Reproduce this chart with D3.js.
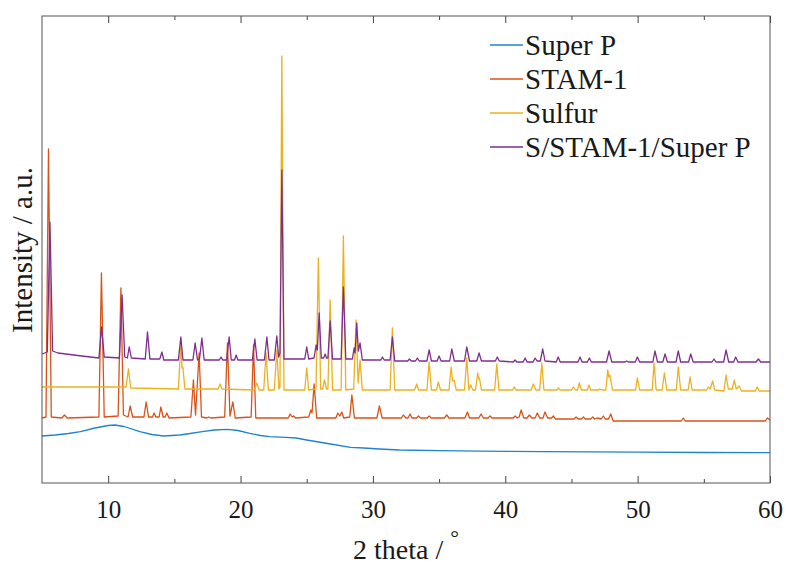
<!DOCTYPE html>
<html>
<head>
<meta charset="utf-8">
<script src="https://cdn.jsdelivr.net/npm/d3@7"></script>
<style>
  body { margin: 0; background: #fff; }
  text { font-family: "Liberation Serif", "Times New Roman", serif; fill: #1a1a1a; }
</style>
</head>
<body>
<div id="chart-container"></div>
<script>
// XRD patterns, [2 theta, intensity (a.u., stacked offset)]
var superP = [[5.0,47],[6.0,48],[7.0,49.5],[7.9,51.3],[9.0,55],[10.0,57.5],[10.5,58],[11.2,56.5],[12.4,51.3],[13.3,48.5],[14.2,47],[15.4,48],[16.2,49.5],[17.1,51.3],[18.0,53],[19.0,53.7],[19.8,52.5],[20.7,49.7],[21.5,47.5],[22.2,46.3],[23.4,45.7],[24.2,45],[25.0,43],[25.9,41],[26.8,39],[28.3,35.7],[29.3,35],[30.5,34],[32.0,33],[35.0,32.3],[38.0,31.8],[43.0,31.3],[50,30.8],[55,30.5],[60,30.3]];

var stam1 = [[5.0,65],[5.3,66],[5.49,334],[5.7,66],[6.5,65],[6.7,68],[6.9,65],[9.3,66],[9.49,210],[9.7,66],[10.75,67],[10.96,195],[11.15,68],[11.5,66],[11.66,77],[11.85,66],[12.7,66],[12.87,81],[13.05,66],[13.35,66],[13.47,70],[13.6,66],[13.85,66],[13.98,76],[14.15,66],[14.3,66],[14.43,70],[14.6,65],[16.25,66],[16.44,103],[16.6,68],[16.87,130],[17.05,66],[17.45,65],[17.6,66],[17.75,65],[18.8,66],[19.01,140],[19.2,67],[19.42,81],[19.6,65],[20.8,66],[20.98,138],[21.15,65],[23.6,65],[23.75,69],[23.9,66],[24.0,67],[24.15,65],[25.15,66],[25.31,73],[25.4,70],[25.56,99],[25.75,65],[27.2,65],[27.35,70],[27.5,67],[27.65,71],[27.8,65],[28.25,66],[28.41,88],[28.6,65],[30.3,65],[30.49,77],[30.7,65],[32.15,65],[32.3,68],[32.5,65],[32.65,65],[32.81,69],[32.95,65],[33.3,65],[33.44,67],[33.6,65],[34.1,65],[34.25,67],[34.4,65],[35.4,65],[35.58,68],[35.75,65],[36.95,65],[37.14,71],[37.3,65],[38.0,65],[38.17,69],[38.35,65],[38.7,65],[38.85,67],[39.0,65],[40.6,65],[40.74,67],[40.9,65],[41.05,66],[41.2,73],[41.4,65],[41.65,65],[41.82,68],[42.0,65],[42.25,65],[42.42,70],[42.6,65],[42.85,65],[43.0,71],[43.2,65],[43.5,65],[43.63,67],[43.8,64],[45.2,64],[45.35,66],[45.5,64],[45.75,64],[45.9,66],[46.05,64],[46.45,64],[46.61,66],[46.75,64],[46.96,65],[47.25,64],[47.41,67],[47.55,64],[47.8,64],[47.97,69],[48.15,62],[53.3,62],[53.45,65],[53.6,62],[59.65,62],[59.8,65],[60,63]];

var sulfur = [[5.0,96],[11.35,96],[11.53,114],[11.7,95],[15.3,94],[15.49,138],[15.58,115],[15.64,116],[15.8,94],[18.3,94],[18.46,99],[18.6,94],[21.05,93],[21.23,100],[21.4,93],[21.75,93],[21.93,130],[22.1,93],[22.55,93],[22.74,133],[22.9,94],[22.98,96],[23.12,427],[23.28,93],[24.85,93],[25.0,115],[25.15,93],[25.7,94],[25.88,225],[26.05,94],[26.2,94],[26.34,103],[26.5,94],[26.6,94],[26.77,183],[26.95,93],[27.6,93],[27.77,247],[27.95,93],[28.55,94],[28.73,163],[28.88,100],[29.03,123],[29.2,93],[31.3,93],[31.47,155],[31.65,93],[33.15,93],[33.31,99],[33.45,93],[34.08,93],[34.25,121],[34.42,93],[34.8,93],[34.95,101],[35.1,93],[35.75,93],[35.91,116],[36.02,102],[36.13,103],[36.3,93],[36.92,93],[37.09,125],[37.25,93],[37.39,98],[37.55,93],[37.75,93],[37.92,110],[38.0,104],[38.05,105],[38.2,93],[39.2,93],[39.36,119],[39.52,93],[40.55,93],[40.67,96],[40.8,93],[41.95,93],[42.12,99],[42.3,93],[42.6,93],[42.76,120],[42.92,93],[43.9,93],[44.01,95],[44.15,93],[45.0,93],[45.14,96],[45.3,93],[45.45,93],[45.6,100],[45.75,93],[46.2,93],[46.33,98],[46.45,93],[47.05,93],[47.16,94],[47.3,93],[47.6,93],[47.74,113],[47.82,106],[47.9,108],[48.1,93],[49.85,93],[49.98,105],[50.15,93],[51.1,93],[51.24,120],[51.4,93],[51.85,93],[52.02,110],[52.2,93],[52.92,93],[53.07,116],[53.25,93],[53.82,93],[53.96,106],[54.12,93],[55.2,93],[55.34,96],[55.48,94],[55.67,102],[55.82,93],[56.52,92],[56.68,108],[56.85,94],[57.15,94],[57.3,103],[57.45,94],[57.68,97],[57.85,92],[58.9,92],[59.04,96],[59.2,92],[60,92]];

var composite = [[5.0,129],[5.4,131],[5.6,261],[5.8,132],[6.2,130],[8.0,127],[9.3,125],[9.5,156],[9.7,126],[10.85,125],[11.05,188],[11.25,126],[11.45,125],[11.59,136],[11.75,125],[12.8,124],[12.97,151],[13.15,124],[13.9,124],[14.06,131],[14.2,123],[15.3,123],[15.49,146],[15.65,123],[16.4,123],[16.57,140],[16.75,123],[16.9,124],[17.08,145],[17.25,123],[18.4,123],[18.53,126],[18.65,123],[18.95,123],[19.14,146],[19.3,123],[19.55,123],[19.67,128],[19.8,123],[20.9,123],[21.08,144],[21.25,123],[21.8,123],[21.99,146],[22.15,123],[22.55,123],[22.74,147],[22.88,126],[22.98,130],[23.12,313],[23.28,124],[24.85,124],[25.0,136],[25.15,124],[25.55,125],[25.71,138],[25.8,133],[25.94,170],[26.1,125],[26.28,125],[26.39,129],[26.5,125],[26.6,125],[26.77,162],[26.95,124],[27.6,124],[27.77,196],[27.95,124],[28.45,124],[28.58,135],[28.65,130],[28.78,160],[28.9,132],[29.03,140],[29.2,123],[30.6,123],[30.72,126],[30.85,123],[31.3,123],[31.47,146],[31.65,122],[32.63,122],[32.76,124],[32.9,122],[33.22,122],[33.36,125],[33.5,122],[34.08,122],[34.25,133],[34.42,122],[34.85,122],[35.0,127],[35.15,122],[35.8,122],[35.96,134],[36.15,122],[36.92,122],[37.09,136],[37.3,122],[37.85,122],[38.02,130],[38.2,122],[39.25,122],[39.4,126],[39.55,122],[40.6,121],[40.74,123],[40.88,121],[41.35,121],[41.5,125],[41.65,121],[42.1,121],[42.25,125],[42.4,122],[42.65,122],[42.83,134],[43.0,122],[43.85,121],[44.0,126],[44.15,121],[45.5,121],[45.65,126],[45.8,121],[46.2,121],[46.35,125],[46.5,121],[47.65,121],[47.84,132],[48.05,121],[49.05,121],[49.18,122],[49.3,121],[49.82,121],[49.98,126],[50.15,121],[51.15,121],[51.31,132],[51.5,121],[51.9,121],[52.07,129],[52.25,121],[52.9,121],[53.07,132],[53.25,121],[53.85,121],[54.01,129],[54.2,121],[55.62,121],[55.77,124],[55.92,121],[56.5,121],[56.68,133],[56.88,121],[57.25,121],[57.41,126],[57.58,121],[58.95,121],[59.12,124],[59.3,121],[60,121]];

var seriesNames = ["Super P", "STAM-1", "Sulfur", "S/STAM-1/Super P"];
var seriesColors = ["#1f84cf", "#D95319", "#EDB120", "#7E2F8E"];
var majorTicks = [10, 20, 30, 40, 50, 60];
var minorTicks = [15, 25, 35, 45, 55];

var margin = { top: 16, right: 16, bottom: 82, left: 42 },
    width = 786 - margin.left - margin.right,
    height = 565 - margin.top - margin.bottom;

var svg = d3.select("#chart-container")
    .append("svg")
    .attr("width", width + margin.left + margin.right)
    .attr("height", height + margin.top + margin.bottom)
    .append("g")
    .attr("transform", "translate(" + margin.left + "," + margin.top + ")");

var x = d3.scaleLinear().domain([5, 60]).range([0, width]);
var y = d3.scaleLinear().domain([0, 467]).range([height, 0]);

var line = d3.line()
    .x(function(d) { return x(d[0]); })
    .y(function(d) { return y(d[1]); });

// curves, Super P first so the composite sits on top
[superP, stam1, sulfur, composite].forEach(function(data, i) {
    svg.append("path")
        .datum(data)
        .attr("fill", "none")
        .attr("stroke", seriesColors[i])
        .attr("stroke-width", 1.3)
        .attr("stroke-linejoin", "round")
        .attr("d", line);
});

// ticks, pointing inward on top and bottom
function tickAxis(axis, ticks, size) {
    return axis.tickValues(ticks).tickSizeInner(-size).tickSizeOuter(0);
}
var bottomMajor = svg.append("g")
    .attr("transform", "translate(0," + height + ")")
    .call(tickAxis(d3.axisBottom(x), majorTicks, 7).tickPadding(17).tickFormat(d3.format("d")));
bottomMajor.selectAll("text")
    .style("font-size", "25px")
    .style("font-family", "'Liberation Serif', 'Times New Roman', serif")
    .attr("fill", "#1a1a1a");
svg.append("g")
    .attr("transform", "translate(0," + height + ")")
    .call(tickAxis(d3.axisBottom(x), minorTicks, 4).tickFormat(""));
svg.append("g")
    .call(tickAxis(d3.axisTop(x), majorTicks, 7).tickFormat(""));
svg.append("g")
    .call(tickAxis(d3.axisTop(x), minorTicks, 4).tickFormat(""));
svg.selectAll(".domain").remove();
svg.selectAll(".tick line").attr("stroke", "#444");

// frame
svg.append("rect")
    .attr("width", width)
    .attr("height", height)
    .attr("fill", "none")
    .attr("stroke", "#555")
    .attr("stroke-width", 1);

// axis titles
var xTitle = svg.append("text")
    .attr("x", width / 2)
    .attr("y", height + 76)
    .attr("text-anchor", "middle")
    .style("font-size", "28px");
xTitle.append("tspan").text("2 theta / ");
xTitle.append("tspan").attr("dy", -14).style("font-size", "22px").text("\u00B0");

svg.append("text")
    .attr("transform", "translate(" + (-10) + "," + 234 + ") rotate(-90)")
    .attr("text-anchor", "middle")
    .style("font-size", "29px")
    .text("Intensity / a.u.");

// legend
var legend = svg.append("g").attr("transform", "translate(448,0)");
seriesNames.forEach(function(name, i) {
    var row = legend.append("g").attr("transform", "translate(0," + (29 + i * 34) + ")");
    row.append("line")
        .attr("x1", 0).attr("x2", 33)
        .attr("stroke", seriesColors[i])
        .attr("stroke-width", 1.3);
    row.append("text")
        .attr("x", 35)
        .attr("dy", "0.35em")
        .style("font-size", "29px")
        .text(name);
});
</script>
</body>
</html>
